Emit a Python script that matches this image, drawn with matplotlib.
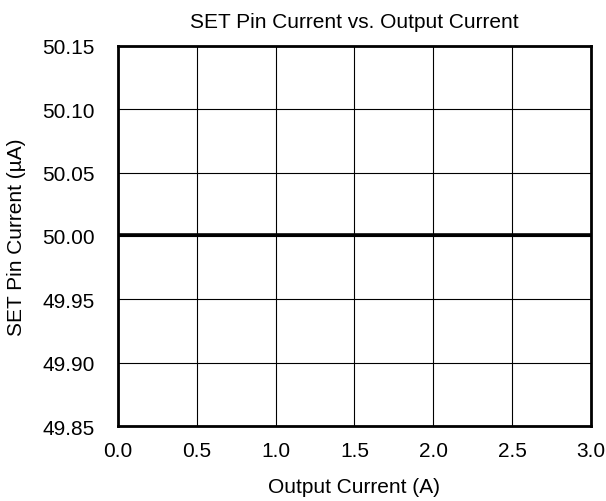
import matplotlib
matplotlib.use("Agg")
import matplotlib.pyplot as plt

# output current sweep and measured SET pin current
i_out = [0.0, 0.5, 1.0, 1.5, 2.0, 2.5, 3.0]
i_set = [50.001, 50.001, 50.001, 50.001, 50.001, 50.001, 50.001]

x_ticks = [0.0, 0.5, 1.0, 1.5, 2.0, 2.5, 3.0]
y_ticks = [49.85, 49.90, 49.95, 50.00, 50.05, 50.10, 50.15]

plt.rcParams['font.family'] = ['Liberation Sans', 'DejaVu Sans']
plt.rcParams['font.size'] = 15

fig = plt.figure(figsize=(6.06, 5.02), dpi=100)
ax = fig.add_axes([0.1947, 0.1494, 0.7805, 0.757])

ax.plot(i_out, i_set, color="black", linewidth=2.6, zorder=3)

ax.set_xlim(0, 3)
ax.set_ylim(49.85, 50.15)
ax.set_xticks(x_ticks)
ax.set_xticklabels([f"{v:.1f}" for v in x_ticks])
ax.set_yticks(y_ticks)
ax.set_yticklabels([f"{v:.2f}" for v in y_ticks])
ax.tick_params(axis="y", length=0, pad=17)
ax.tick_params(axis="x", length=0, pad=11)
ax.grid(True, color="black", linewidth=0.8)
for s in ax.spines.values():
    s.set_linewidth(2)

ax.set_title("SET Pin Current vs. Output Current", fontsize=15, pad=14)
ax.set_xlabel("Output Current (A)", labelpad=12)
ax.set_ylabel("SET Pin Current (µA)", labelpad=11)

fig.savefig("out.png", dpi=100)
